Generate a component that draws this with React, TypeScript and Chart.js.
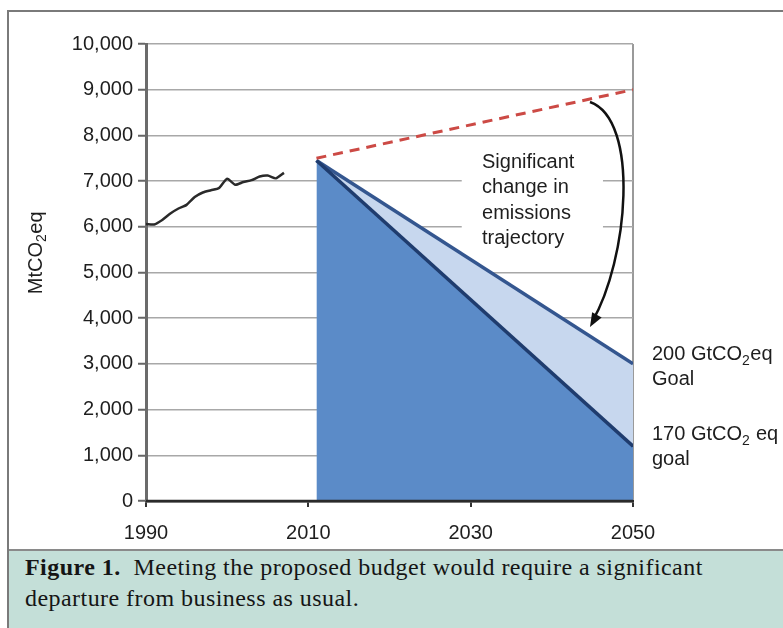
import React, { useEffect, useRef } from "react";
import { Chart, registerables } from "chart.js";

Chart.register(...registerables);

const FONT = "'Liberation Sans', Arial, Helvetica, sans-serif";

// Historical emissions (MtCO2eq)
const histYears = [1990, 1991, 1992, 1993, 1994, 1995, 1996, 1997, 1998, 1999, 2000, 2001, 2002, 2003, 2004, 2005, 2006, 2007];
const histValues = [6060, 6050, 6150, 6290, 6400, 6480, 6650, 6750, 6800, 6850, 7050, 6920, 6980, 7020, 7100, 7120, 7060, 7180];

// Projections
const projYears = [2011, 2050];
const bauValues = [7500, 9000];
const goal200Values = [7450, 3000];
const goal170Values = [7450, 1200];

// Axis ticks
const xTickValues = [1990, 2010, 2030, 2050];
const yTickValues = [0, 1000, 2000, 3000, 4000, 5000, 6000, 7000, 8000, 9000, 10000];

// Annotation text
const noteLines = ["Significant", "change in", "emissions", "trajectory"];
const noteX = 2031.4;
const noteLineValues = [7418, 6860, 6302, 5744];
const noteBox = { x0: 2028.9, x1: 2046.3, y0: 7800, y1: 5450 };
const label200 = { main: "200 GtCO", sub: "2", tail: "eq", second: "Goal", y1: 3200, y2: 2650 };
const label170 = { main: "170 GtCO", sub: "2", tail: " eq", second: "goal", y1: 1450, y2: 900 };
const arrowPts = { x: [2044.7, 2050.9, 2049.4, 2044.7], y: [8731, 8337, 5274, 3807] };

function drawChem(ctx: CanvasRenderingContext2D, x: number, y: number, main: string, sub: string, tail: string) {
  ctx.font = `20px ${FONT}`;
  ctx.textBaseline = "middle";
  ctx.textAlign = "left";
  ctx.fillText(main, x, y);
  let cx = x + ctx.measureText(main).width;
  ctx.font = `14px ${FONT}`;
  ctx.fillText(sub, cx, y + 6);
  cx += ctx.measureText(sub).width + 0.5;
  ctx.font = `20px ${FONT}`;
  ctx.fillText(tail, cx, y);
}

const annotPlugin = {
  id: "annot",
  beforeDatasetsDraw(chart: any) {
    const { ctx, scales } = chart;
    const x = scales.x, y = scales.y;
    ctx.save();
    ctx.fillStyle = "#ffffff";
    const px0 = x.getPixelForValue(noteBox.x0);
    const px1 = x.getPixelForValue(noteBox.x1);
    const py0 = y.getPixelForValue(noteBox.y0);
    const py1 = y.getPixelForValue(noteBox.y1);
    ctx.fillRect(px0, py0, px1 - px0, py1 - py0);
    ctx.restore();
  },
  afterDatasetsDraw(chart: any) {
    const { ctx, chartArea } = chart;
    ctx.save();
    ctx.strokeStyle = "#2a2a2a";
    ctx.lineWidth = 2.5;
    ctx.beginPath();
    ctx.moveTo(chartArea.left, chartArea.bottom);
    ctx.lineTo(chartArea.right, chartArea.bottom);
    ctx.stroke();
    ctx.restore();
  },
  afterDraw(chart: any) {
    const { ctx, scales, chartArea } = chart;
    const x = scales.x, y = scales.y;
    ctx.save();
    ctx.fillStyle = "#1e1e1e";
    // note text
    ctx.font = `20px ${FONT}`;
    ctx.textBaseline = "middle";
    ctx.textAlign = "left";
    noteLines.forEach((t, i) => {
      ctx.fillText(t, x.getPixelForValue(noteX), y.getPixelForValue(noteLineValues[i]));
    });
    // right labels
    const lx = x.getPixelForValue(2050) + 19;
    drawChem(ctx, lx, y.getPixelForValue(label200.y1), label200.main, label200.sub, label200.tail);
    ctx.font = `20px ${FONT}`;
    ctx.fillText(label200.second, lx, y.getPixelForValue(label200.y2));
    drawChem(ctx, lx, y.getPixelForValue(label170.y1), label170.main, label170.sub, label170.tail);
    ctx.font = `20px ${FONT}`;
    ctx.fillText(label170.second, lx, y.getPixelForValue(label170.y2));
    // y title
    ctx.save();
    ctx.translate(chartArea.left - 110, y.getPixelForValue(5430));
    ctx.rotate(-Math.PI / 2);
    ctx.font = `20px ${FONT}`;
    const w1 = ctx.measureText("MtCO").width;
    ctx.font = `14px ${FONT}`;
    const w2 = ctx.measureText("2").width;
    ctx.font = `20px ${FONT}`;
    const w3 = ctx.measureText("eq").width;
    drawChem(ctx, -(w1 + w2 + w3 + 0.5) / 2, 0, "MtCO", "2", "eq");
    ctx.restore();
    // arrow
    const P = arrowPts.x.map((v, i) => [x.getPixelForValue(v), y.getPixelForValue(arrowPts.y[i])]);
    ctx.strokeStyle = "#111";
    ctx.lineWidth = 2.5;
    ctx.beginPath();
    ctx.moveTo(P[0][0], P[0][1]);
    ctx.bezierCurveTo(P[1][0], P[1][1], P[2][0], P[2][1], P[3][0] + 2, P[3][1] - 5);
    ctx.stroke();
    const dx = P[3][0] - P[2][0], dy = P[3][1] - P[2][1];
    const len = Math.hypot(dx, dy);
    const ux = dx / len, uy = dy / len;
    const hl = 14, hw = 5.5;
    ctx.fillStyle = "#111";
    ctx.beginPath();
    ctx.moveTo(P[3][0], P[3][1]);
    ctx.lineTo(P[3][0] - ux * hl - uy * hw, P[3][1] - uy * hl + ux * hw);
    ctx.lineTo(P[3][0] - ux * hl + uy * hw, P[3][1] - uy * hl - ux * hw);
    ctx.closePath();
    ctx.fill();
    ctx.restore();
  },
};

export default function App() {
  const ref = useRef<HTMLCanvasElement | null>(null);

  useEffect(() => {
    if (!ref.current) return;
    const pts = (xs: number[], ys: number[]) => xs.map((v, i) => ({ x: v, y: ys[i] }));
    const chart = new Chart(ref.current, {
      type: "line",
      data: {
        datasets: [
          {
            label: "History",
            data: pts(histYears, histValues),
            borderColor: "#2a2a2a",
            borderWidth: 2.5,
            pointRadius: 0,
            tension: 0.2,
            fill: false,
          },
          {
            label: "Business as usual",
            data: pts(projYears, bauValues),
            borderColor: "#cc4a45",
            borderWidth: 3,
            borderDash: [10, 7],
            pointRadius: 0,
            fill: false,
          },
          {
            label: "170 GtCO2eq goal",
            data: pts(projYears, goal170Values),
            borderColor: "#1f3c6e",
            borderWidth: 3.5,
            backgroundColor: "#5b8bc8",
            pointRadius: 0,
            fill: "origin",
          },
          {
            label: "200 GtCO2eq Goal",
            data: pts(projYears, goal200Values),
            borderColor: "#34568f",
            borderWidth: 3.5,
            backgroundColor: "#c7d7ee",
            pointRadius: 0,
            fill: "-1",
          },
        ],
      },
      options: {
        animation: false,
        responsive: false,
        devicePixelRatio: 1,
        events: [],
        layout: { padding: { top: 44, right: 150, left: 0, bottom: 0 } },
        plugins: { legend: { display: false }, tooltip: { enabled: false } },
        scales: {
          x: {
            type: "linear",
            min: 1990,
            max: 2050,
            afterBuildTicks: (s: any) => {
              s.ticks = xTickValues.map((v) => ({ value: v }));
            },
            afterFit: (s: any) => {
              s.height = 48;
            },
            ticks: {
              callback: (v: any) => String(v),
              font: { size: 20, family: FONT },
              color: "#1e1e1e",
              padding: 14,
              maxRotation: 0,
              autoSkip: false,
            },
            grid: {
              color: (c: any) => (c.tick && c.tick.value === 2050 ? "#9a9a9a" : "rgba(0,0,0,0)"),
              lineWidth: 2,
              tickColor: "#333",
              tickLength: 6,
              tickWidth: 2,
            },
            border: { color: "#2a2a2a", width: 2.5 },
          },
          y: {
            type: "linear",
            min: 0,
            max: 10000,
            afterBuildTicks: (s: any) => {
              s.ticks = yTickValues.map((v) => ({ value: v }));
            },
            afterFit: (s: any) => {
              s.width = 146;
            },
            ticks: {
              callback: (v: any) => Number(v).toLocaleString("en-US"),
              font: { size: 20, family: FONT },
              color: "#1e1e1e",
              padding: 5,
            },
            grid: {
              color: "#a8a8a8",
              lineWidth: 1.5,
              tickColor: "#666",
              tickLength: 8,
              tickWidth: 2,
            },
            border: { color: "#6b6b6b", width: 3 },
          },
        },
      },
      plugins: [annotPlugin],
    } as any);
    return () => chart.destroy();
  }, []);

  return (
    <div style={{ position: "fixed", left: 0, top: 0, width: 783, height: 628, background: "#fff", overflow: "hidden" }}>
      <div
        style={{
          position: "absolute",
          left: 7,
          top: 10,
          width: 790,
          height: 640,
          borderLeft: "2px solid #7a7a7a",
          borderTop: "2px solid #7a7a7a",
        }}
      />
      <div
        style={{
          position: "absolute",
          left: 9,
          top: 549,
          width: 774,
          height: 79,
          boxSizing: "border-box",
          background: "#c4dfd8",
          borderTop: "2px solid #8a8a8a",
          padding: "1px 0 0 16px",
          fontFamily: "'Liberation Serif', 'Times New Roman', serif",
          fontSize: 24,
          letterSpacing: "0.45px",
          lineHeight: "31px",
          color: "#151515",
          whiteSpace: "nowrap",
        }}
      >
        <b>Figure 1.</b>&nbsp; Meeting the proposed budget would require a significant
        <br />
        departure from business as usual.
      </div>
      <canvas ref={ref} width={783} height={549} style={{ position: "absolute", left: 0, top: 0, width: 783, height: 549 }} />
    </div>
  );
}
